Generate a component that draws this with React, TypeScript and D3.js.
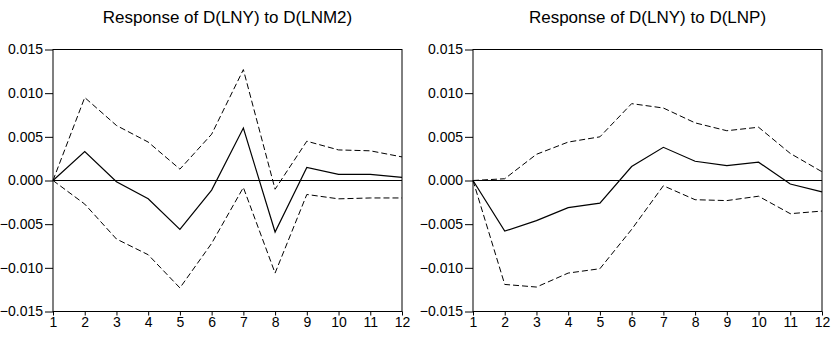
import React, { useEffect, useRef } from 'react';
import * as d3 from 'd3';

// periods 1..12
const periods = [1, 2, 3, 4, 5, 6, 7, 8, 9, 10, 11, 12];
const yTicks = [0.015, 0.01, 0.005, 0, -0.005, -0.01, -0.015];

// Response of D(LNY) to D(LNM2)
const m2Resp = [0, 0.0033, -0.00015, -0.0021, -0.0056, -0.0011, 0.006, -0.0059, 0.0015, 0.0007, 0.0007, 0.00035];
const m2Upper = [0, 0.0095, 0.0063, 0.0044, 0.0013, 0.0053, 0.0127, -0.001, 0.0045, 0.0035, 0.0034, 0.0027];
const m2Lower = [0, -0.0027, -0.0067, -0.0085, -0.0123, -0.0072, -0.0008, -0.0106, -0.0016, -0.0021, -0.002, -0.002];

// Response of D(LNY) to D(LNP)
const pResp = [0, -0.0058, -0.0046, -0.0031, -0.0026, 0.0016, 0.0038, 0.0022, 0.0017, 0.0021, -0.0004, -0.0013];
const pUpper = [0, 0.0002, 0.003, 0.0044, 0.005, 0.0088, 0.0083, 0.0066, 0.0057, 0.0061, 0.0031, 0.001];
const pLower = [0, -0.0119, -0.0122, -0.0106, -0.0101, -0.0056, -0.0006, -0.0022, -0.0023, -0.0018, -0.0038, -0.0035];

const panels = [
  { title: 'Response of D(LNY) to D(LNM2)', left: 53, right: 402, resp: m2Resp, upper: m2Upper, lower: m2Lower },
  { title: 'Response of D(LNY) to D(LNP)', left: 473, right: 822, resp: pResp, upper: pUpper, lower: pLower },
];

function App() {
  const svgRef = useRef<SVGSVGElement>(null);

  useEffect(() => {
    const svg = d3.select(svgRef.current);
    svg.selectAll('*').remove();

    const top = 49.5;
    const bottom = 311.5;
    const font = 'Liberation Sans, Arial, sans-serif';

    panels.forEach(p => {
      const x = d3.scaleLinear().domain([1, 12]).range([p.left, p.right]);
      const y = d3.scaleLinear().domain([-0.015, 0.015]).range([bottom, top]);
      const g = svg.append('g');

      g.append('text')
        .attr('x', (p.left + p.right) / 2)
        .attr('y', 23)
        .attr('text-anchor', 'middle')
        .style('font-family', font)
        .style('font-size', '17px')
        .text(p.title);

      // zero line
      g.append('line')
        .attr('x1', p.left).attr('x2', p.right)
        .attr('y1', y(0)).attr('y2', y(0))
        .attr('stroke', 'black').attr('stroke-width', 1);

      const line = d3.line<number>()
        .x((_, i) => x(periods[i]))
        .y(d => y(d));

      g.append('path').attr('d', line(p.upper)!).attr('fill', 'none')
        .attr('stroke', 'black').attr('stroke-width', 1).attr('stroke-dasharray', '6,3');
      g.append('path').attr('d', line(p.lower)!).attr('fill', 'none')
        .attr('stroke', 'black').attr('stroke-width', 1).attr('stroke-dasharray', '6,3');
      g.append('path').attr('d', line(p.resp)!).attr('fill', 'none')
        .attr('stroke', 'black').attr('stroke-width', 1.2);

      // frame
      g.append('rect')
        .attr('x', p.left).attr('y', top)
        .attr('width', p.right - p.left).attr('height', bottom - top)
        .attr('fill', 'none').attr('stroke', 'black').attr('stroke-width', 1);

      const yAxis = g.append('g')
        .attr('transform', `translate(${p.left},0)`)
        .call(d3.axisLeft(y).tickValues(yTicks).tickSize(8).tickPadding(2)
          .tickFormat(d => d3.format('.3f')(d as number)));
      yAxis.select('.domain').remove();
      yAxis.selectAll('text').style('font-family', font).style('font-size', '14px').attr('fill', 'black');

      const xAxis = g.append('g')
        .attr('transform', `translate(0,${bottom})`)
        .call(d3.axisBottom(x).tickValues(periods).tickSize(4).tickPadding(2)
          .tickFormat(d => String(d)));
      xAxis.select('.domain').remove();
      xAxis.selectAll('text').style('font-family', font).style('font-size', '14px').attr('fill', 'black');
    });
  }, []);

  return <svg ref={svgRef} width={832} height={337} style={{ display: 'block', position: 'absolute', left: 0, top: 0 }} />;
}

export default App;
